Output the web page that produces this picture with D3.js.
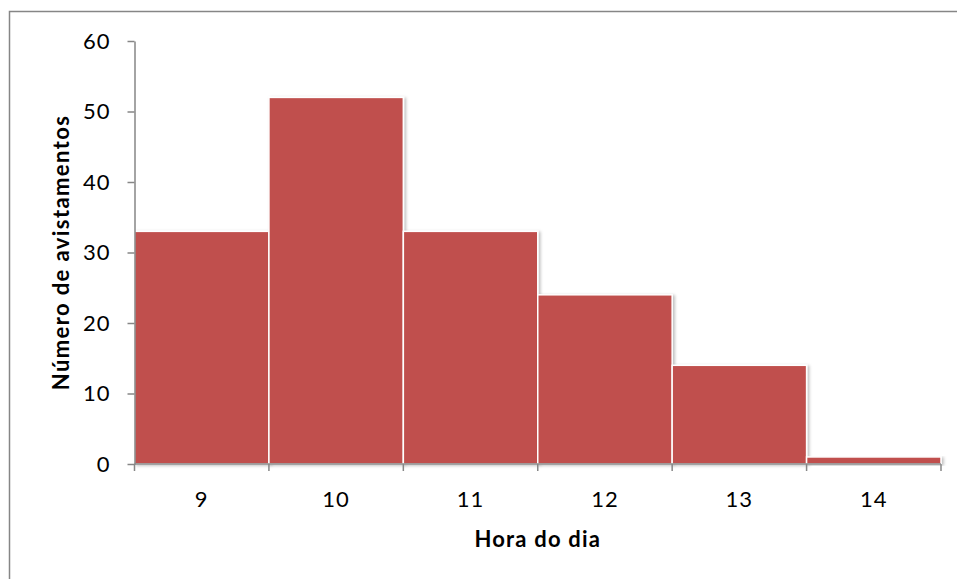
<!DOCTYPE html>
<html>
<head>
<meta charset="utf-8">
<script src="https://cdn.jsdelivr.net/npm/d3@7"></script>
<style>
  html, body { margin: 0; padding: 0; background: #fff; }
  svg { display: block; }
  text { font-family: Lato, "Open Sans", sans-serif; fill: #000; }
</style>
</head>
<body>
<svg id="chart" width="957" height="579"></svg>
<script>
// Sightings per hour of day
const hours = ["9", "10", "11", "12", "13", "14"];
const sightings = [33, 52, 33, 24, 14, 1];
const yTicks = [0, 10, 20, 30, 40, 50, 60];

const svg = d3.select("#chart");
const W = 957, H = 579;
const margin = { left: 134.5, right: 16, top: 41, bottom: 115 };

// chart frame
svg.append("rect")
  .attr("x", 9.5).attr("y", 11.5)
  .attr("width", W + 20).attr("height", H + 20)
  .attr("fill", "#fff")
  .attr("stroke", "#868686").attr("stroke-width", 1.5);

const x = d3.scaleBand().domain(hours)
  .range([margin.left, W - margin.right]).padding(0);
const y = d3.scaleLinear().domain([0, 60])
  .range([H - margin.bottom, margin.top]);

const defs = svg.append("defs");
const f = defs.append("filter").attr("id", "shadow")
  .attr("x", "-10%").attr("y", "-10%").attr("width", "130%").attr("height", "130%");
f.append("feDropShadow").attr("dx", 2).attr("dy", 1).attr("stdDeviation", 1.5)
  .attr("flood-color", "#000").attr("flood-opacity", 0.25);

// bars
svg.append("g").selectAll("rect")
  .data(hours.map((h, i) => ({ h, v: sightings[i] })))
  .join("rect")
  .attr("x", d => x(d.h))
  .attr("y", d => y(d.v))
  .attr("width", x.bandwidth())
  .attr("height", d => y(0) - y(d.v))
  .attr("fill", "#C0504D")
  .attr("stroke", "#fff")
  .attr("stroke-width", 1.5)
  .attr("filter", "url(#shadow)");

// y axis
const yAxis = svg.append("g")
  .attr("transform", `translate(${margin.left},0)`)
  .call(d3.axisLeft(y).tickValues(yTicks).tickSize(7).tickPadding(17).tickSizeOuter(0));
yAxis.select(".domain").attr("stroke", "#868686").attr("stroke-width", 1.5);
yAxis.selectAll(".tick line").attr("stroke", "#868686").attr("stroke-width", 1.5);
yAxis.selectAll(".tick text")
  .style("font-size", "22px").style("font-family", "Lato, sans-serif")
  .style("letter-spacing", "1px");

// x axis with ticks on category boundaries
const xg = svg.append("g").attr("transform", `translate(0,${y(0)})`);
xg.append("line")
  .attr("x1", margin.left).attr("x2", W - margin.right)
  .attr("stroke", "#868686").attr("stroke-width", 1.5);
const bounds = hours.map(h => x(h)).concat([x(hours[hours.length - 1]) + x.bandwidth()]);
xg.selectAll(".b").data(bounds).join("line")
  .attr("x1", d => d).attr("x2", d => d)
  .attr("y1", 0).attr("y2", 7)
  .attr("stroke", "#868686").attr("stroke-width", 1.5);
xg.selectAll(".lbl").data(hours).join("text")
  .attr("x", d => x(d) + x.bandwidth() / 2)
  .attr("y", 43)
  .attr("text-anchor", "middle")
  .style("font-size", "22px")
  .style("letter-spacing", "1px")
  .text(d => d);

// axis titles
svg.append("text")
  .attr("x", (margin.left + W - margin.right) / 2)
  .attr("y", 547)
  .attr("text-anchor", "middle")
  .style("font-size", "22px").style("font-weight", "bold")
  .style("letter-spacing", "1.2px")
  .text("Hora do dia");

svg.append("text")
  .attr("transform", `translate(69,${(y(0) + y(60)) / 2}) rotate(-90)`)
  .attr("text-anchor", "middle")
  .style("font-size", "22px").style("font-weight", "bold")
  .style("letter-spacing", "1.4px")
  .text("Número de avistamentos");
</script>
</body>
</html>
